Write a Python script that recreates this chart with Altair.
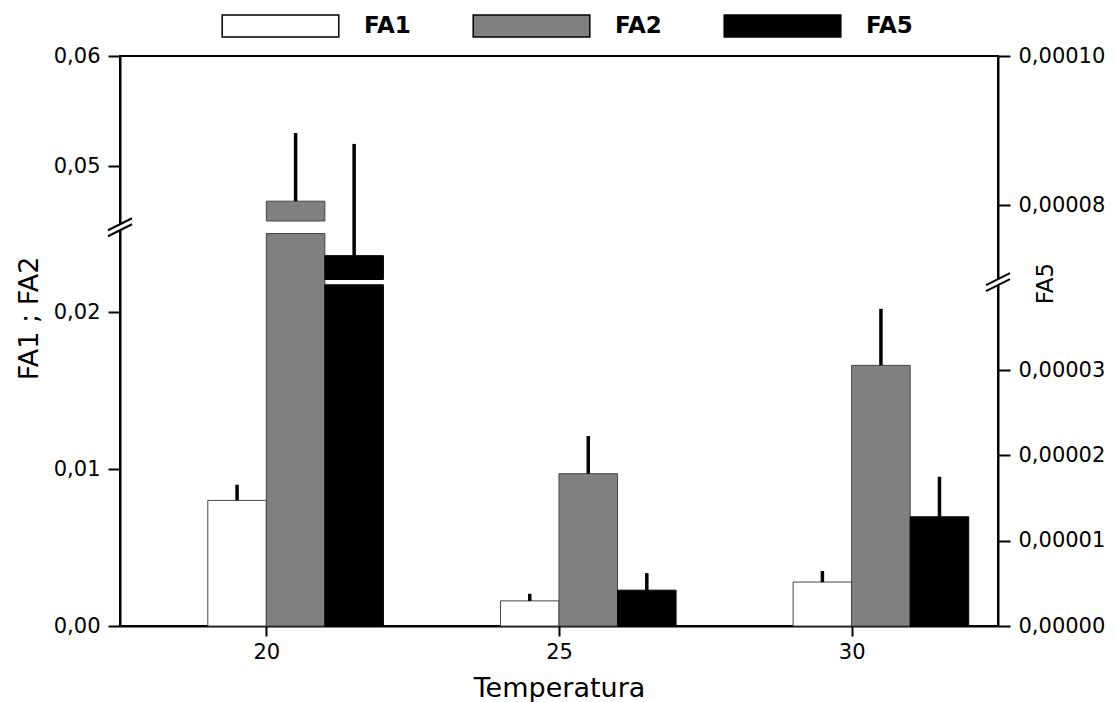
import altair as alt
import pandas as pd

# ---------------- data ----------------
temps = [20, 25, 30]
series = ["FA1", "FA2", "FA5"]
colors = ["white", "#808080", "black"]
fa1_mean = [0.0080, 0.0016, 0.0028]
fa1_err = [0.0010, 0.00045, 0.0007]
fa2_mean = [0.0468, 0.0097, 0.0166]
fa2_err = [0.0062, 0.0024, 0.0036]
fa5_mean = [0.0000732, 0.0000042, 0.0000128]
fa5_err = [0.0000150, 0.0000020, 0.0000047]
x_ticks = [20, 25, 30]
left_ticks = [0.0, 0.01, 0.02, 0.05, 0.06]
right_ticks = [0.0, 0.00001, 0.00002, 0.00003, 0.00008, 0.00010]

FONT = "DejaVu Sans"

# ---------------- layout / broken axes ----------------
W, H = 878, 570
X_DOMAIN = [17.5, 32.5]

# left axis: lower segment 0..0.025, upper 0.045..0.06
L_LO, L_HI, L_TOP = 0.025, 0.045, 0.06
L_TOPD = H / 157.0 * 0.01
L_R = 110.0 / 157.0
# right axis: lower segment 0..0.00004, upper 0.00007..0.00010
R_LO, R_HI, R_TOP = 0.00004, 0.00007, 0.00010
R_TOPD = H / 85.3 * 0.00001
R_R = 74.5 / 85.3


def disp_py(v, lo, top, topd, r):
    return v if v <= lo else topd - (top - v) * r


def disp_expr(v, lo, top, topd, r):
    return f"(({v}) <= {lo!r}) ? ({v}) : ({topd!r} - ({top!r} - ({v})) * {r!r})"


def label_expr(lo, top, topd, r, fmt):
    inv = f"(datum.value > {lo!r}) ? ({top!r} - ({topd!r} - datum.value) / {r!r}) : datum.value"
    return f"replace(format({inv}, '{fmt}'), '.', ',')"


rows_l = []
for i, t in enumerate(temps):
    rows_l.append({"temp": t, "series": "FA1", "idx": 0, "mean": fa1_mean[i], "err": fa1_err[i]})
    rows_l.append({"temp": t, "series": "FA2", "idx": 1, "mean": fa2_mean[i], "err": fa2_err[i]})
rows_r = []
for i, t in enumerate(temps):
    rows_r.append({"temp": t, "series": "FA5", "idx": 2, "mean": fa5_mean[i], "err": fa5_err[i]})
left_df = pd.DataFrame(rows_l)
right_df = pd.DataFrame(rows_r)

xscale = alt.Scale(domain=X_DOMAIN, nice=False, zero=False)
fill_scale = alt.Scale(domain=series, range=colors)

legend = alt.Legend(
    orient="none", legendX=101, legendY=-42, direction="horizontal", title=None,
    symbolType="M-1,-0.19L1,-0.19L1,0.19L-1,0.19Z", symbolSize=13596,
    symbolStrokeColor="black", symbolStrokeWidth=1.5, clipHeight=24,
    labelFont=FONT, labelFontSize=23, labelFontWeight="bold",
    labelColor="black", labelOffset=24, columnPadding=61, padding=0,
)

x_axis = alt.Axis(
    values=x_ticks, title="Temperatura", grid=False, tickSize=10, labelPadding=5,
    titleY=70, titleBaseline="alphabetic", titleFontSize=27,
)


def side(df, lo, hi, top, topd, r, axis, legend_def, xa, stroke):
    yscale = alt.Scale(domain=[0, topd], nice=False, zero=False)
    base = alt.Chart(df).transform_calculate(
        x0="datum.temp + datum.idx - 1",
        x1="datum.temp + datum.idx",
        xc="datum.temp + datum.idx - 0.5",
        base="0",
        lo_end=f"min(datum.mean, {lo!r})",
        hi_start=disp_expr(repr(hi), lo, top, topd, r),
        top_d=disp_expr("datum.mean", lo, top, topd, r),
        err_d=disp_expr("datum.mean + datum.err", lo, top, topd, r),
    )
    bars_lo = base.mark_bar(stroke=stroke, strokeWidth=1).encode(
        x=alt.X("x0:Q", scale=xscale, axis=x_axis),
        x2="x1:Q",
        y=alt.Y("lo_end:Q", scale=yscale, axis=axis),
        y2="base:Q",
        fill=alt.Fill("series:N", scale=fill_scale, legend=legend_def),
    )
    bars_hi = base.transform_filter(f"datum.mean > {hi!r}").mark_bar(stroke=stroke, strokeWidth=1).encode(
        x=alt.X("x0:Q", scale=xscale, axis=x_axis),
        x2="x1:Q",
        y=alt.Y("top_d:Q", scale=yscale, axis=axis),
        y2="hi_start:Q",
        fill=alt.Fill("series:N", scale=fill_scale, legend=legend_def),
    )
    err = base.mark_rule(color="black", strokeWidth=3.5).encode(
        x=alt.X("xc:Q", scale=xscale, axis=x_axis),
        y=alt.Y("top_d:Q", scale=yscale, axis=axis),
        y2="err_d:Q",
    )
    brk_df = pd.DataFrame({"xa": [xa], "c": [(lo + disp_py(hi, lo, top, topd, r)) / 2]})
    bb = alt.Chart(brk_df)
    white = bb.mark_rule(color="white", strokeWidth=5, yOffset=-3, y2Offset=3).encode(
        x=alt.X("xa:Q", scale=xscale, axis=x_axis),
        y=alt.Y("c:Q", scale=yscale, axis=axis),
        y2="c:Q",
    )
    lines = []
    for o in (-3, 3):
        lines.append(
            bb.mark_rule(color="black", strokeWidth=2, xOffset=-12, x2Offset=12,
                         yOffset=6 + o, y2Offset=-6 + o).encode(
                x=alt.X("xa:Q", scale=xscale, axis=x_axis),
                x2="xa:Q",
                y=alt.Y("c:Q", scale=yscale, axis=axis),
                y2="c:Q",
            )
        )
    return alt.layer(bars_lo, bars_hi, err, white, *lines)


left_axis = alt.Axis(
    orient="left", values=[disp_py(v, L_LO, L_TOP, L_TOPD, L_R) for v in left_ticks],
    labelExpr=label_expr(L_LO, L_TOP, L_TOPD, L_R, ".2f"),
    title="FA1 ; FA2", titleAngle=270, titleX=-83, titleY=262, titleAlign="center",
    titleBaseline="alphabetic", titleFontSize=27, tickSize=12, labelPadding=8, grid=False,
)
right_axis = alt.Axis(
    orient="right", values=[disp_py(v, R_LO, R_TOP, R_TOPD, R_R) for v in right_ticks],
    labelExpr=label_expr(R_LO, R_TOP, R_TOPD, R_R, ".5f"),
    title="FA5", titleAngle=270, titleX=54, titleY=227, titleAlign="center",
    titleBaseline="alphabetic", titleFontSize=23, tickSize=12, labelPadding=8, grid=False,
)

left = side(left_df, L_LO, L_HI, L_TOP, L_TOPD, L_R, left_axis, legend, X_DOMAIN[0], "#444")
right = side(right_df, R_LO, R_HI, R_TOP, R_TOPD, R_R, right_axis, legend, X_DOMAIN[1], "black")

chart = (
    alt.layer(left, right)
    .resolve_scale(y="independent")
    .properties(
        width=W, height=H,
        autosize=alt.AutoSizeParams(type="none"),
        padding={"left": 112, "top": 48, "right": 110, "bottom": 76},
        background="white",
    )
    .configure(font=FONT)
    .configure_view(stroke="black", strokeWidth=2)
    .configure_axis(
        labelFont=FONT, labelFontSize=21, labelColor="black",
        titleFont=FONT, titleFontWeight="normal", titleColor="black",
        domainColor="black", domainWidth=2, tickColor="black", tickWidth=2,
    )
)

chart.save("out.html", embed_options={"renderer": "svg", "actions": False})
